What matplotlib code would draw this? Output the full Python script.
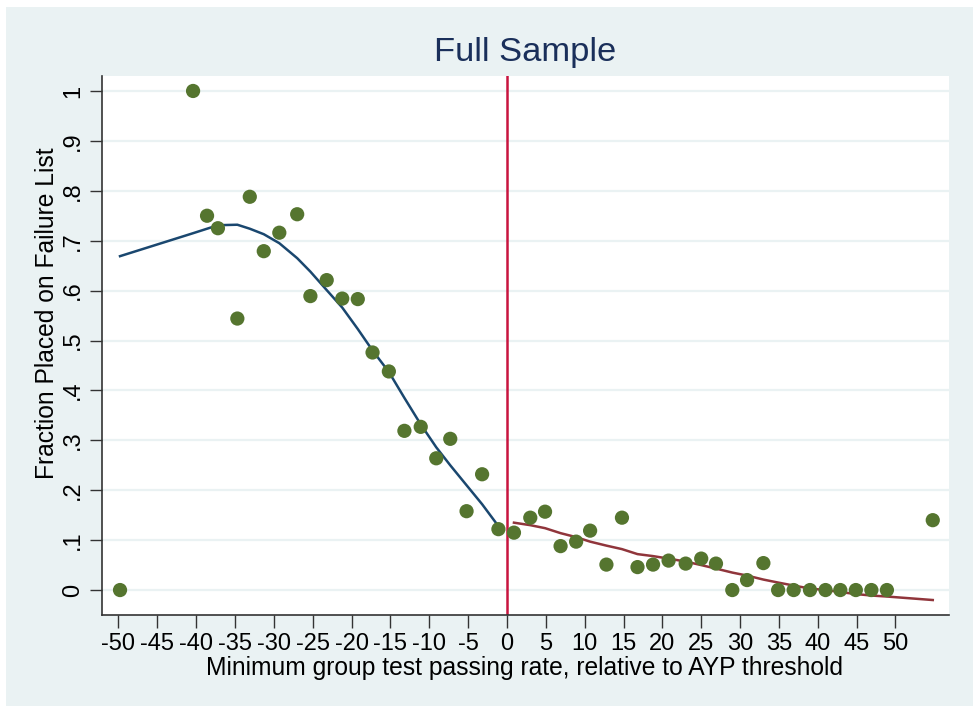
import matplotlib
matplotlib.use("Agg")
import matplotlib.pyplot as plt
from matplotlib.patches import Rectangle

plt.rcParams['font.family'] = ['Liberation Sans', 'DejaVu Sans']

# Data: left of threshold
left_x = [-49.8, -40.4, -38.6, -37.2, -34.7, -33.1, -31.3, -29.3, -27.0, -25.3, -23.2,
          -21.2, -19.2, -17.3, -15.2, -13.2, -11.1, -9.1, -7.3, -5.2, -3.2, -1.1]
left_y = [0.0, 1.0, 0.750, 0.725, 0.544, 0.788, 0.679, 0.716, 0.753, 0.589, 0.621,
          0.584, 0.583, 0.476, 0.438, 0.319, 0.327, 0.264, 0.303, 0.158, 0.232, 0.122]
left_fit = [0.669, 0.715, 0.724, 0.731, 0.732, 0.724, 0.713, 0.695, 0.665, 0.638, 0.601,
            0.566, 0.523, 0.480, 0.437, 0.385, 0.332, 0.286, 0.250, 0.210, 0.172, 0.128]

# Data: right of threshold
right_x = [0.9, 3.0, 4.9, 6.9, 8.9, 10.7, 12.8, 14.8, 16.8, 18.8, 20.8, 23.0, 25.0,
           26.9, 29.0, 30.9, 33.0, 34.9, 36.9, 39.0, 41.0, 42.9, 44.9, 46.9, 48.9, 54.8]
right_y = [0.115, 0.145, 0.157, 0.088, 0.097, 0.119, 0.051, 0.145, 0.046, 0.051, 0.059,
           0.053, 0.063, 0.053, 0.0, 0.020, 0.054, 0.0, 0.0, 0.0, 0.0, 0.0, 0.0, 0.0, 0.0, 0.140]
right_fit = [0.135, 0.130, 0.124, 0.114, 0.106, 0.097, 0.089, 0.082, 0.072, 0.068, 0.063,
             0.057, 0.050, 0.043, 0.035, 0.029, 0.021, 0.015, 0.009, 0.003, 0.000, -0.004,
             -0.008, -0.011, -0.013, -0.020]

x_ticks = list(range(-50, 55, 5))
y_ticks = [0, 0.1, 0.2, 0.3, 0.4, 0.5, 0.6, 0.7, 0.8, 0.9, 1.0]
y_tick_labels = ["0", ".1", ".2", ".3", ".4", ".5", ".6", ".7", ".8", ".9", "1"]

W, H = 973, 709
fig = plt.figure(figsize=(W / 100, H / 100), dpi=100)
fig.patch.set_facecolor("white")
bg = "#eaf2f3"
fig.patches.append(Rectangle((6 / W, 3 / H), (W - 6) / W, (H - 10) / H,
                             transform=fig.transFigure, facecolor=bg, edgecolor="none", zorder=-5))

ax = fig.add_axes([102 / W, 1 - 615 / H, (949 - 102) / W, (615 - 76) / H])
ax.set_zorder(2)
ax.set_facecolor("white")
ax.set_xlim(-52.12, 56.89)
ax.set_ylim(-0.050, 1.030)

for yv in y_ticks:
    ax.axhline(yv, color=bg, lw=1.6, zorder=1)

ax.axvline(0, color="#c8143f", lw=1.8, zorder=2)
ax.plot(left_x, left_fit, color="#1a476f", lw=1.8, zorder=3)
ax.plot(right_x, right_fit, color="#90353b", lw=1.8, zorder=3)
ax.scatter(left_x + right_x, left_y + right_y, s=105, color="#55752f",
           edgecolors="none", zorder=4)

ax.set_xticks(x_ticks)
ax.set_xticklabels([str(v) for v in x_ticks])
ax.set_yticks(y_ticks)
ax.set_yticklabels(y_tick_labels, rotation=90, va="center")
ax.tick_params(axis="both", direction="out", length=9, width=1, color="#333333",
               labelsize=17, labelcolor="black", pad=4)

for s in ["top", "right"]:
    ax.spines[s].set_visible(False)
for s in ["left", "bottom"]:
    ax.spines[s].set_color("#333333")
    ax.spines[s].set_linewidth(1.2)

fig.text(525 / W, 1 - 52 / H, "Full Sample", ha="center", va="center",
         fontsize=24.8, color="#1a2f5a")
fig.text(525 / W, 1 - 668 / H, "Minimum group test passing rate, relative to AYP threshold",
         ha="center", va="center", fontsize=17.7)
fig.text(47 / W, 1 - 313 / H, "Fraction Placed on Failure List", ha="center", va="center",
         rotation=90, fontsize=17.7)

fig.savefig("out.png", dpi=100, facecolor=fig.get_facecolor())
